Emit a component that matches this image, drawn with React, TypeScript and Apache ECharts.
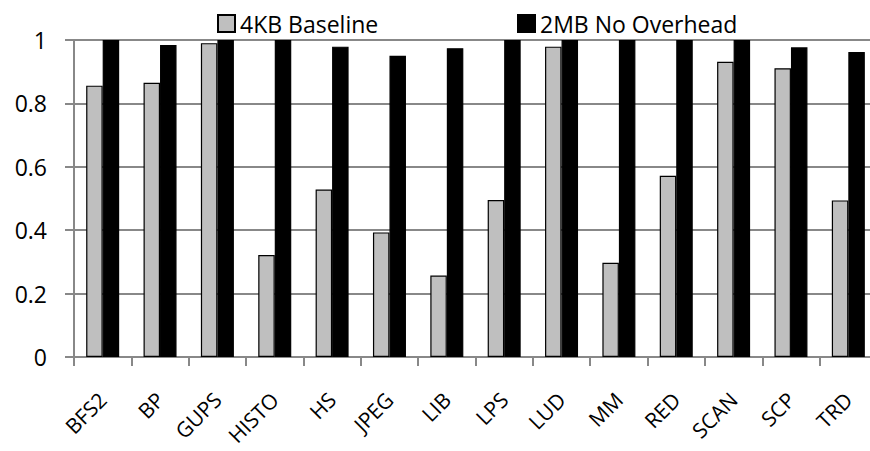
import React, { useEffect, useRef } from "react";
import * as echarts from "echarts";

const categories = ["BFS2", "BP", "GUPS", "HISTO", "HS", "JPEG", "LIB", "LPS", "LUD", "MM", "RED", "SCAN", "SCP", "TRD"];
const baseline4KB = [0.856, 0.865, 0.99, 0.322, 0.528, 0.393, 0.257, 0.495, 0.979, 0.297, 0.572, 0.931, 0.911, 0.494];
const noOverhead2MB = [1, 0.984, 1, 1, 0.979, 0.95, 0.974, 1, 1, 1, 1, 1, 0.977, 0.962];
const seriesNames = ["4KB Baseline", "2MB No Overhead"];

const FONT = "'Open Sans', 'Noto Sans', sans-serif";
const AXIS_GREY = "#888888";

export default function App() {
  const ref = useRef<HTMLDivElement>(null);
  useEffect(() => {
    if (!ref.current) return;
    const chart = echarts.init(ref.current, undefined, { renderer: "svg" });
    const legendBase = {
      top: 7,
      itemWidth: 17,
      itemHeight: 17,
      icon: "rect",
      textStyle: { fontFamily: FONT, fontSize: 23, lineHeight: 23, color: "#000" },
    };
    chart.setOption({
      animation: false,
      backgroundColor: "#ffffff",
      legend: [
        { ...legendBase, left: 212, data: [seriesNames[0]] },
        { ...legendBase, left: 512, data: [seriesNames[1]] },
      ],
      grid: { left: 74, width: 803, top: 40, bottom: 94, containLabel: false, outerBoundsMode: "none" },
      xAxis: {
        type: "category",
        data: categories,
        axisLine: { lineStyle: { color: AXIS_GREY, width: 2 } },
        axisTick: { show: true, length: 9, lineStyle: { color: AXIS_GREY, width: 2 } },
        axisLabel: {
          rotate: 45,
          margin: 39,
          fontFamily: FONT,
          fontSize: 21,
          color: "#000",
          interval: 0,
          overflow: "none",
          hideOverlap: false,
        },
      },
      yAxis: {
        type: "value",
        min: 0,
        max: 1,
        interval: 0.2,
        axisLine: { show: true, lineStyle: { color: AXIS_GREY, width: 2 } },
        axisTick: { show: true, length: 9, lineStyle: { color: AXIS_GREY, width: 2 } },
        splitLine: { show: true, lineStyle: { color: AXIS_GREY, width: 2 } },
        axisLabel: {
          margin: 27,
          fontFamily: FONT,
          fontSize: 23,
          color: "#000",
          formatter: (v: number) => (v === 0 ? "0" : v === 1 ? "1" : v.toFixed(1)),
        },
      },
      series: [
        {
          name: seriesNames[0],
          type: "bar",
          data: baseline4KB,
          barWidth: 16.5,
          barGap: "0%",
          itemStyle: { color: "#bfbfbf", borderColor: "#000", borderWidth: 1.2 },
        },
        {
          name: seriesNames[1],
          type: "bar",
          data: noOverhead2MB,
          barWidth: 16.5,
          barGap: "0%",
          itemStyle: { color: "#000", borderColor: "#000", borderWidth: 1.2 },
        },
      ],
    });
    return () => chart.dispose();
  }, []);
  return (
    <div
      ref={ref}
      style={{ position: "fixed", left: 0, top: 0, width: 870, height: 451, background: "#fff" }}
    />
  );
}
